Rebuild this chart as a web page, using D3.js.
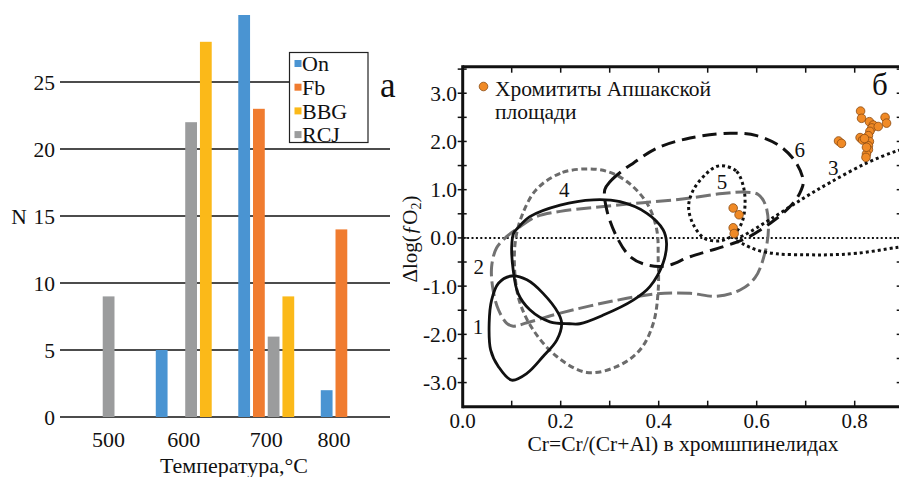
<!DOCTYPE html>
<html><head><meta charset="utf-8">
<script src="https://cdn.jsdelivr.net/npm/d3@7"></script>
<style>
body{margin:0;background:#fff}
svg text{font-family:"Liberation Serif","Times New Roman",serif;fill:#111}
</style></head><body>
<svg id="c" width="899" height="477"></svg>
<script>
// ---------- Panel a: histogram data ----------
const tempCats = ["500","600","700","800"];
const groupOrder = ["On","Fb","RCJ","BBG"];      // order of bars inside a group
const legendOrder = ["On","Fb","BBG","RCJ"];
const onVals  = [0, 5, 30, 2];
const fbVals  = [0, 0, 23, 14];
const rcjVals = [9, 22, 6, 0];
const bbgVals = [0, 28, 9, 0];
const nTicks = [0, 5, 10, 15, 20, 25];
const seriesColors = {On:"#4a94d2", Fb:"#f07c30", BBG:"#fbb919", RCJ:"#9b9c9d"};

// ---------- Panel b: Cr# vs dlogfO2 ----------
const crTicksLabel = [0, 0.2, 0.4, 0.6, 0.8];
const crTicksMinor = [0.1,0.2,0.3,0.4,0.5,0.6,0.7,0.8];
const fo2TicksLabel = [-3, -2, -1, 0, 1, 2, 3];
const fo2TicksMinor = [-3,-2.5,-2,-1.5,-1,-0.5,0,0.5,1,1.5,2,2.5,3,3.5];

const field1 = [[0.100,-0.79],[0.073,-0.94],[0.059,-1.29],[0.054,-1.77],[0.057,-2.32],[0.073,-2.67],[0.100,-2.95],[0.131,-2.81],[0.164,-2.46],[0.192,-2.12],[0.202,-1.77],[0.195,-1.56],[0.164,-1.15],[0.131,-0.87]];
const fieldSolid = [[0.100,-0.18],[0.104,0.10],[0.112,0.20],[0.137,0.44],[0.199,0.68],[0.267,0.79],[0.321,0.75],[0.376,0.51],[0.409,0.17],[0.416,-0.11],[0.409,-0.52],[0.382,-1.01],[0.348,-1.29],[0.287,-1.60],[0.239,-1.78],[0.218,-1.78],[0.178,-1.74],[0.137,-1.49],[0.113,-1.15],[0.103,-0.66]];
const field2 = [[0.090,0.03],[0.117,0.23],[0.150,0.44],[0.199,0.55],[0.267,0.63],[0.368,0.73],[0.460,0.82],[0.530,0.92],[0.575,0.95],[0.603,0.90],[0.618,0.68],[0.624,0.20],[0.617,-0.30],[0.597,-0.82],[0.566,-1.08],[0.518,-1.21],[0.464,-1.15],[0.396,-1.16],[0.301,-1.32],[0.199,-1.56],[0.131,-1.76],[0.103,-1.83],[0.090,-1.77],[0.073,-1.49],[0.062,-1.08],[0.059,-0.60],[0.069,-0.21]];
const field4 = [[0.250,1.43],[0.199,1.34],[0.150,1.00],[0.120,0.44],[0.107,-0.11],[0.107,-0.80],[0.117,-1.35],[0.144,-1.91],[0.192,-2.46],[0.253,-2.79],[0.314,-2.67],[0.362,-2.32],[0.389,-1.77],[0.399,-1.08],[0.399,-0.46],[0.396,0.17],[0.376,0.72],[0.335,1.17],[0.294,1.38]];
const field5 = [[0.535,1.49],[0.559,1.38],[0.573,1.06],[0.576,0.65],[0.569,0.30],[0.552,0.06],[0.525,-0.06],[0.494,-0.01],[0.471,0.27],[0.461,0.65],[0.471,1.00],[0.498,1.34],[0.518,1.48]];
const field6 = [[0.290,1.00],[0.301,1.17],[0.328,1.41],[0.348,1.55],[0.396,1.86],[0.464,2.07],[0.546,2.17],[0.600,2.12],[0.648,1.90],[0.681,1.55],[0.695,1.17],[0.688,0.93],[0.668,0.65],[0.627,0.30],[0.580,0.00],[0.532,-0.18],[0.464,-0.39],[0.416,-0.58],[0.376,-0.56],[0.342,-0.39],[0.314,0.03],[0.294,0.58]];
const field3 = [[0.930,1.93],[0.885,1.80],[0.824,1.55],[0.750,1.15],[0.695,0.82],[0.627,0.38],[0.575,0.06],[0.555,-0.03],[0.573,-0.13],[0.600,-0.25],[0.641,-0.33],[0.702,-0.35],[0.750,-0.35],[0.804,-0.32],[0.885,-0.20],[0.930,-0.14]];
const chromititeCr  = [0.812,0.814,0.830,0.838,0.835,0.831,0.848,0.862,0.865,0.811,0.816,0.828,0.830,0.828,0.828,0.824,0.823,0.767,0.773,0.824,0.820,0.552,0.564,0.552,0.554];
const chromititeFO2 = [2.63,2.48,2.41,2.34,2.28,2.21,2.31,2.50,2.38,2.08,2.03,2.12,2.00,1.91,1.83,1.74,1.67,2.01,1.96,1.88,2.06,0.62,0.48,0.21,0.09];
const fieldLabels = [["4",0.207,1.00],["2",0.033,-0.60],["1",0.031,-1.83],["5",0.529,1.16],["6",0.688,1.83],["3",0.756,1.45]];

const svg = d3.select("#c");

// ================= Panel a =================
const seriesVals = {On:onVals, Fb:fbVals, RCJ:rcjVals, BBG:bbgVals};
const gA = svg.append("g");
const yA = d3.scaleLinear().domain([0,30]).range([417,15]);
const x0 = d3.scaleBand().domain(tempCats).range([60,390]).paddingInner(0.322).paddingOuter(0.161);
const x1 = d3.scaleBand().domain(groupOrder).range([0,x0.bandwidth()]).paddingInner(0.2);

gA.append("g").selectAll("line").data(nTicks).join("line")
  .attr("x1",60).attr("x2",390).attr("y1",d=>yA(d)).attr("y2",d=>yA(d))
  .attr("stroke","#111").attr("stroke-width",1.4);
gA.append("g").selectAll("text").data(nTicks).join("text")
  .attr("x",55).attr("y",d=>yA(d)).attr("dy","0.35em").attr("text-anchor","end")
  .attr("font-size",21.5).text(d=>d);
gA.append("text").attr("x",19).attr("y",yA(15)).attr("dy","0.35em").attr("text-anchor","middle")
  .attr("font-size",21.5).text("N");

const barData = [];
tempCats.forEach((c,i)=>groupOrder.forEach(s=>barData.push({c, s, v:seriesVals[s][i]})));
gA.append("g").selectAll("rect").data(barData.filter(d=>d.v>0)).join("rect")
  .attr("x",d=>x0(d.c)+x1(d.s)).attr("width",x1.bandwidth())
  .attr("y",d=>yA(d.v)).attr("height",d=>yA(0)-yA(d.v))
  .attr("fill",d=>seriesColors[d.s]);

// category labels centred on the non-empty bars of each group
gA.append("g").selectAll("text").data(tempCats).join("text")
  .attr("x",c=>{
    const b = barData.filter(d=>d.c===c && d.v>0);
    const lo = d3.min(b,d=>x0(d.c)+x1(d.s)), hi = d3.max(b,d=>x0(d.c)+x1(d.s)+x1.bandwidth());
    return (lo+hi)/2;})
  .attr("y",447).attr("text-anchor","middle").attr("font-size",22).text(c=>c);
gA.append("text").attr("x",234).attr("y",473).attr("text-anchor","middle").attr("font-size",22)
  .text("Температура,°C");

// legend
const lg = gA.append("g");
lg.append("rect").attr("x",368).attr("y",52).attr("width",24).attr("height",40).attr("fill","#fff");
lg.append("rect").attr("x",289.5).attr("y",52.5).attr("width",78.5).attr("height",90)
  .attr("fill","#fff").attr("stroke","#222").attr("stroke-width",1.2);
legendOrder.forEach((s,i)=>{
  const cy = 63.5 + i*23.7;
  lg.append("rect").attr("x",294.5).attr("y",cy-3.5).attr("width",7).attr("height",7).attr("fill",seriesColors[s]);
  lg.append("text").attr("x",302).attr("y",cy).attr("dy","0.35em").attr("font-size",22).text(s);
});
gA.append("text").attr("x",380).attr("y",97).attr("font-size",35).text("а");

// ================= Panel b =================
const gB = svg.append("g");
const xs = d3.scaleLinear().domain([0,0.9]).range([462.7,903.7]);
const ys = d3.scaleLinear().domain([-3.5,3.55]).range([406.7,66.7]);
const X0 = xs(0), X1 = xs(0.9), Y0 = ys(-3.5), Y1 = ys(3.55);

gB.append("clipPath").attr("id","clipB").append("rect")
  .attr("x",X0).attr("y",Y1).attr("width",X1-X0).attr("height",Y0-Y1);
const plot = gB.append("g").attr("clip-path","url(#clipB)");

// zero line
plot.append("line").attr("x1",X0).attr("x2",X1).attr("y1",ys(0)).attr("y2",ys(0))
  .attr("stroke","#111").attr("stroke-width",2).attr("stroke-dasharray","2,2.4");

const closed = d3.line().x(d=>xs(d[0])).y(d=>ys(d[1])).curve(d3.curveCatmullRomClosed.alpha(0.5));
const open = d3.line().x(d=>xs(d[0])).y(d=>ys(d[1])).curve(d3.curveCatmullRom.alpha(0.5));

const fields = [
  {d:field4, p:closed, c:"#6b6b6b", w:3, dash:"6,3.5"},
  {d:field2, p:closed, c:"#727272", w:3, dash:"15,5"},
  {d:field6, p:closed, c:"#111", w:3, dash:"14,7"},
  {d:field1, p:closed, c:"#111", w:2.8, dash:null},
  {d:fieldSolid, p:closed, c:"#111", w:2.8, dash:null},
  {d:field5, p:closed, c:"#111", w:3, dash:"3,3"},
  {d:field3, p:open, c:"#111", w:3, dash:"3,3"}
];
fields.forEach(f=>{
  plot.append("path").attr("d",f.p(f.d)).attr("fill","none").attr("stroke",f.c)
    .attr("stroke-width",f.w).attr("stroke-dasharray",f.dash).attr("stroke-linejoin","round");
});

// points
plot.append("g").selectAll("circle").data(chromititeCr.map((v,i)=>[v,chromititeFO2[i]])).join("circle")
  .attr("cx",d=>xs(d[0])).attr("cy",d=>ys(d[1])).attr("r",4.3)
  .attr("fill","#f08a26").attr("stroke","#8a4a12").attr("stroke-width",0.8);

// field labels
gB.append("g").selectAll("text").data(fieldLabels).join("text")
  .attr("x",d=>xs(d[1])).attr("y",d=>ys(d[2])).attr("dy","0.35em").attr("text-anchor","middle")
  .attr("font-size",21).text(d=>d[0]);

// frame
const frame = gB.append("g").attr("stroke","#111").attr("stroke-width",3);
frame.append("line").attr("x1",X0).attr("x2",X0).attr("y1",Y1-1.5).attr("y2",Y0+1.5);
frame.append("line").attr("x1",X0).attr("x2",X1).attr("y1",Y0).attr("y2",Y0);
frame.append("line").attr("x1",X0).attr("x2",X1).attr("y1",Y1).attr("y2",Y1);
frame.append("line").attr("x1",X1).attr("x2",X1).attr("y1",Y1).attr("y2",Y0);

// ticks
const tk = gB.append("g").attr("stroke","#111").attr("stroke-width",1.5);
tk.selectAll(".xb").data(crTicksMinor).join("line").attr("class","xb")
  .attr("x1",d=>xs(d)).attr("x2",d=>xs(d)).attr("y1",Y0).attr("y2",Y0-6);
tk.selectAll(".xt").data(crTicksMinor).join("line").attr("class","xt")
  .attr("x1",d=>xs(d)).attr("x2",d=>xs(d)).attr("y1",Y1).attr("y2",Y1+6);
tk.selectAll(".yl").data(fo2TicksMinor).join("line").attr("class","yl")
  .attr("x1",X0-5).attr("x2",X0+4).attr("y1",d=>ys(d)).attr("y2",d=>ys(d));
tk.selectAll(".yr").data(fo2TicksMinor).join("line").attr("class","yr")
  .attr("x1",X1).attr("x2",X1-7).attr("y1",d=>ys(d)).attr("y2",d=>ys(d));

// tick labels
gB.append("g").selectAll("text").data(crTicksLabel).join("text")
  .attr("x",d=>xs(d)).attr("y",428).attr("text-anchor","middle").attr("font-size",21)
  .text(d=>d.toFixed(1));
gB.append("g").selectAll("text").data(fo2TicksLabel).join("text")
  .attr("x",457).attr("y",d=>ys(d)).attr("dy","0.35em").attr("text-anchor","end").attr("font-size",21.5)
  .text(d=>d.toFixed(1));

// axis titles
gB.append("text").attr("x",683).attr("y",451).attr("text-anchor","middle").attr("font-size",21.5)
  .text("Cr=Cr/(Cr+Al) в хромшпинелидах");
const yt = gB.append("text").attr("transform","translate(417,239) rotate(-90)")
  .attr("text-anchor","middle").attr("font-size",21);
yt.append("tspan").text("Δlog(");
yt.append("tspan").attr("font-style","italic").text("ƒ");
yt.append("tspan").text("O");
yt.append("tspan").attr("font-size",14).attr("dy",4).text("2");
yt.append("tspan").attr("dy",-4).text(")");

// legend b
gB.append("circle").attr("cx",483.5).attr("cy",86.5).attr("r",4.3)
  .attr("fill","#f08a26").attr("stroke","#8a4a12").attr("stroke-width",0.8);
gB.append("text").attr("x",495).attr("y",95.5).attr("font-size",21.5).text("Хромититы Апшакской");
gB.append("text").attr("x",495).attr("y",119).attr("font-size",21.5).text("площади");
gB.append("text").attr("x",872).attr("y",95).attr("font-size",31).text("б");
</script>
</body></html>
